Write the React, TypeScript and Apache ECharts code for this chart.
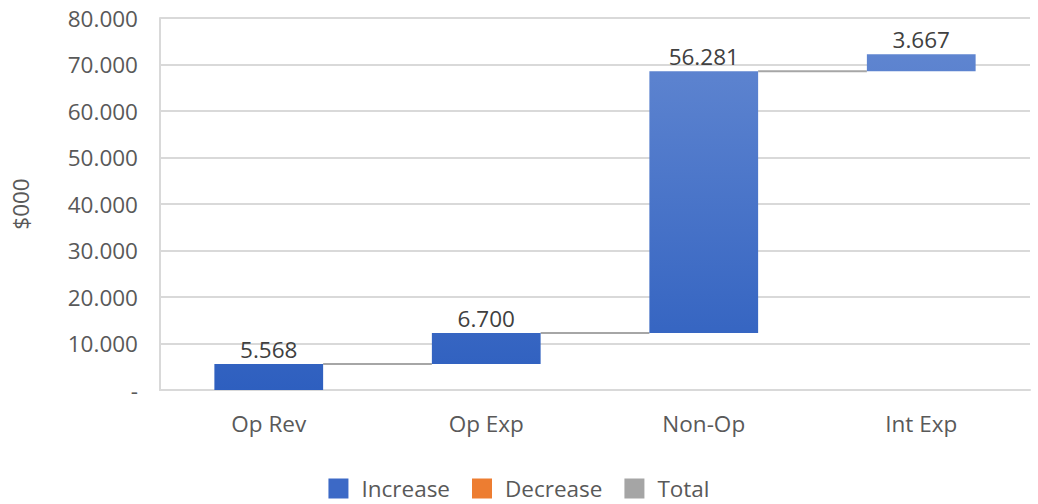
import React, { useEffect, useRef } from "react";
import * as echarts from "echarts";

const categories = ["Op Rev", "Op Exp", "Non-Op", "Int Exp"];
const increaseValues = [5.568, 6.7, 56.281, 3.667];
const yTicks = { min: 0, max: 80, interval: 10 };
const legendNames = ["Increase", "Decrease", "Total"];
const legendColors = ["#3c69c6", "#ed7d31", "#a5a5a5"];

export default function App() {
  const ref = useRef<HTMLDivElement>(null);
  useEffect(() => {
    document.body.style.margin = "0";
    if (!ref.current) return;
    const chart = echarts.init(ref.current, undefined, { renderer: "svg" });
    const bases: number[] = [];
    const ends: number[] = [];
    let acc = 0;
    increaseValues.forEach((v) => {
      bases.push(acc);
      acc += v;
      ends.push(acc);
    });
    const font = "'Open Sans', sans-serif";
    const fs = 22.5;
    const blueGrad = {
      type: "linear",
      x: 0,
      y: 18,
      x2: 0,
      y2: 390,
      global: true,
      colorStops: [
        { offset: 0, color: "#6489d2" },
        { offset: 1, color: "#2e5fbf" },
      ],
    };
    chart.setOption({
      animation: false,
      textStyle: { fontFamily: font },
      grid: { left: 160, right: 8, top: 18, bottom: 114 },
      legend: {
        data: legendNames.map((n, i) => ({ name: n, itemStyle: { color: legendColors[i] } })),
        top: 472,
        left: "center",
        itemWidth: 20,
        itemHeight: 20,
        itemGap: 22,
        icon: "rect",
        textStyle: { fontSize: fs, color: "#595959", fontFamily: font, padding: [0, 0, 0, 8] },
      },
      xAxis: {
        type: "category",
        data: categories,
        axisTick: { show: false },
        axisLine: { lineStyle: { color: "#d9d9d9", width: 2 } },
        axisLabel: { fontSize: fs, color: "#595959", margin: 22, fontFamily: font },
      },
      yAxis: {
        type: "value",
        min: yTicks.min,
        max: yTicks.max,
        interval: yTicks.interval,
        name: "$000",
        nameLocation: "middle",
        nameRotate: 90,
        nameGap: 128,
        nameTextStyle: { fontSize: fs, color: "#595959", fontFamily: font },
        axisLine: { show: true, lineStyle: { color: "#d9d9d9", width: 2 } },
        splitLine: { lineStyle: { color: "#d9d9d9", width: 2 } },
        axisLabel: {
          fontSize: fs,
          color: "#595959",
          margin: 22,
          fontFamily: font,
          formatter: (v: number) => (v === 0 ? "-" : v.toFixed(3)),
        },
      },
      series: [
        {
          name: "base",
          type: "bar",
          stack: "w",
          barWidth: "50%",
          itemStyle: { color: "transparent" },
          data: bases,
          silent: true,
        },
        {
          name: "Increase",
          type: "bar",
          stack: "w",
          barWidth: "50%",
          itemStyle: { color: blueGrad },
          data: increaseValues,
          label: {
            show: true,
            position: "top",
            distance: 3,
            fontSize: fs,
            color: "#404040",
            fontFamily: font,
            formatter: (p: any) => Number(p.value).toFixed(3),
          },
        },
        { name: "Decrease", type: "bar", stack: "w", itemStyle: { color: legendColors[1] }, data: [] },
        { name: "Total", type: "bar", stack: "w", itemStyle: { color: legendColors[2] }, data: [] },
        {
          name: "connector",
          type: "custom",
          silent: true,
          z: 1,
          data: ends.slice(0, -1).map((e, i) => [i, e]),
          encode: { x: 0, y: 1 },
          renderItem: (params: any, api: any) => {
            const i = api.value(0);
            const y = api.value(1);
            const p = api.coord([i, y]);
            const band = api.size([1, 0])[0];
            const bw = band * 0.5;
            return {
              type: "line",
              shape: { x1: p[0] + bw / 2, y1: p[1], x2: p[0] + band - bw / 2, y2: p[1] },
              style: { stroke: "#a6a6a6", lineWidth: 2 },
            };
          },
        },
      ],
    });
    return () => chart.dispose();
  }, []);
  return <div ref={ref} style={{ width: 1038, height: 504 }} />;
}
